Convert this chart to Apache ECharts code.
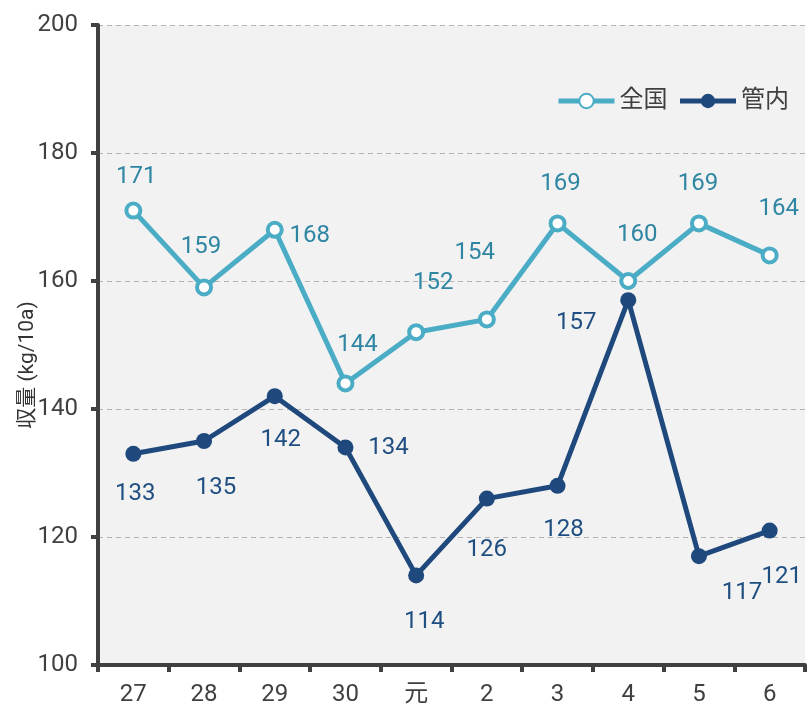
<!DOCTYPE html>
<html><head><meta charset="utf-8">
<script src="https://cdn.jsdelivr.net/npm/echarts@6/dist/echarts.min.js"></script>
<style>html,body{margin:0;padding:0;background:#fff}#c{width:812px;height:721px}</style>
</head><body><div id="c"></div>
<script>
const categories = ['27','28','29','30','元','2','3','4','5','6'];
const zenkoku = [171,159,168,144,152,154,169,160,169,164];
const kannai = [133,135,142,134,114,126,128,157,117,121];
const yTicks = {min:100, max:200, interval:20};
// label offsets (visual placement only)
const zOff = [[3,-34],[-3,-40],[35,6],[12,-38],[17,-49],[-12,-66],[3,-39],[9,-46],[-1,-39],[9,-46]];
const kOff = [[2,40],[12,47],[6,44],[43,1],[8,47],[0,51],[6,44],[-52,23],[43,37],[12,46]];

const FONT = 'Roboto, "Noto Sans CJK JP", sans-serif';
function mk(vals, offs){
  return vals.map((v,i)=>({value:v, label:{offset:offs[i]}}));
}
const chart = echarts.init(document.getElementById('c'));
chart.setOption({
  animation:false,
  grid:{left:98, top:25, right:7, bottom:56, show:true, backgroundColor:'#f2f2f2', borderWidth:0},
  legend:{
    right:18, top:84, itemWidth:56, itemHeight:18, itemGap:10,
    textStyle:{fontSize:24, color:'#404040', fontFamily:FONT},
    lineStyle:{width:5},
    data:['全国','管内']
  },
  xAxis:{
    type:'category', data:categories, boundaryGap:true,
    axisLine:{lineStyle:{color:'#404040', width:4}},
    axisTick:{show:true, length:7, lineStyle:{color:'#404040', width:4}},
    axisLabel:{color:'#404040', fontSize:24, margin:18, fontFamily:FONT},
    splitLine:{show:false}
  },
  yAxis:{
    type:'value', min:yTicks.min, max:yTicks.max, interval:yTicks.interval,
    name:'収量 (kg/10a)', nameLocation:'middle', nameGap:60, nameMoveOverlap:false,
    nameTextStyle:{fontSize:21, color:'#333', fontFamily:FONT, padding:[0,40,0,0]},
    axisLine:{show:true, lineStyle:{color:'#404040', width:4}},
    axisTick:{show:true, length:7, lineStyle:{color:'#404040', width:4}},
    axisLabel:{color:'#404040', fontSize:24, margin:20, fontFamily:FONT},
    splitLine:{show:true, lineStyle:{color:'#b4b4b4', type:[5,4], width:1}}
  },
  series:[
    {
      name:'全国', type:'line', data:mk(zenkoku, zOff),
      symbol:'circle', symbolSize:14,
      lineStyle:{color:'#4bacc6', width:5},
      itemStyle:{color:'#ffffff', borderColor:'#4bacc6', borderWidth:4},
      label:{show:true, position:'inside', fontSize:24, color:'#2e86a3', fontFamily:FONT, align:'center', verticalAlign:'middle'},
      z:3
    },
    {
      name:'管内', type:'line', data:mk(kannai, kOff),
      symbol:'circle', symbolSize:16,
      lineStyle:{color:'#1f497d', width:5},
      itemStyle:{color:'#1f497d', borderColor:'#1f497d', borderWidth:0},
      label:{show:true, position:'inside', fontSize:24, color:'#1f4e80', fontFamily:FONT, align:'center', verticalAlign:'middle'},
      z:2
    }
  ]
});
</script></body></html>
